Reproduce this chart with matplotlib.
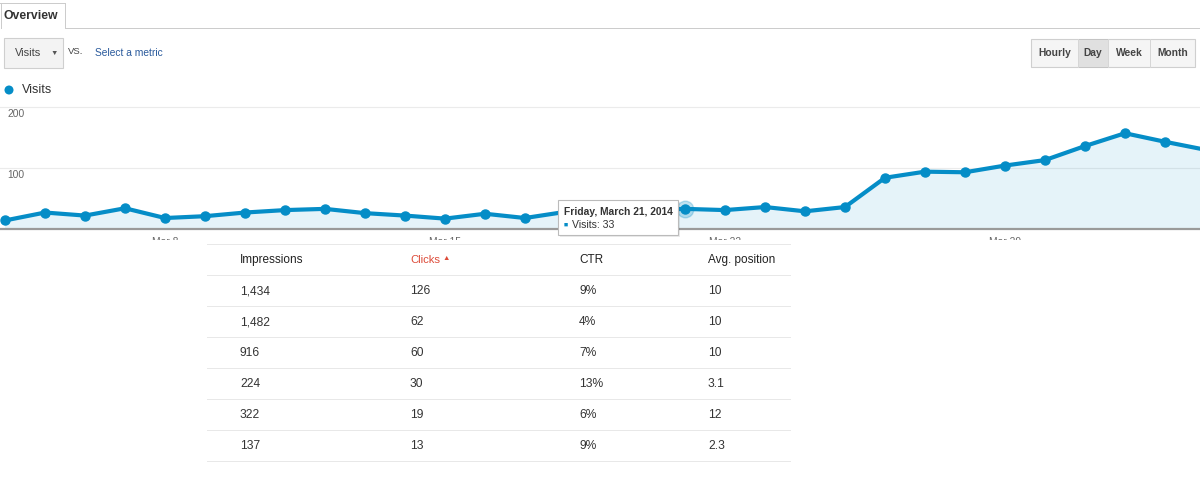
import matplotlib
matplotlib.use('Agg')
import matplotlib.pyplot as plt
from matplotlib.patches import Rectangle, Ellipse
from matplotlib.lines import Line2D
import pandas as pd

plt.rcParams['font.family'] = ['Liberation Sans', 'DejaVu Sans']

# ---------------- data ----------------
dates = pd.date_range('2014-03-04', '2014-04-03', freq='D')
visits = [14, 27, 22, 34, 18, 21, 27, 31, 33, 26,
          22, 17, 25, 18, 28, 30, 31, 33, 31, 36,
          29, 36, 84, 94, 93, 104, 113, 136, 157, 143, 130]
tick_dates = pd.to_datetime(['2014-03-08', '2014-03-15', '2014-03-22', '2014-03-29'])
tick_labels = ['Mar 8', 'Mar 15', 'Mar 22', 'Mar 29']
y_ticks = [100, 200]
hover_index = 17

table_headers = ['Impressions', 'Clicks', 'CTR', 'Avg. position']
impressions = [1434, 1482, 916, 224, 322, 137]
clicks = [126, 62, 60, 30, 19, 13]
ctr = ['9%', '4%', '7%', '13%', '6%', '9%']
avg_position = ['10', '10', '10', '3.1', '12', '2.3']

period_buttons = ['Hourly', 'Day', 'Week', 'Month']
active_button = 'Day'

# ---------------- helpers ----------------
W, H = 1200, 494
BLUE = '#058dc7'

def fx(x):
    return x / W

def fy(y):
    return 1 - y / H

def pt(px):
    return px * 0.72

fig = plt.figure(figsize=(W / 100, H / 100), dpi=100)
fig.patch.set_facecolor('white')

def hline(x0, x1, y, color='#e6e6e6', lw=1, z=3):
    fig.add_artist(Line2D([fx(x0), fx(x1)], [fy(y), fy(y)], transform=fig.transFigure,
                          color=color, lw=lw * 0.72, zorder=z))

def vline(x, y0, y1, color='#cccccc', lw=1, z=3):
    fig.add_artist(Line2D([fx(x), fx(x)], [fy(y0), fy(y1)], transform=fig.transFigure,
                          color=color, lw=lw * 0.72, zorder=z))

def box(x0, y0, x1, y1, fc, ec, z=3):
    p = Rectangle((fx(x0), fy(y1)), fx(x1) - fx(x0), fy(y0) - fy(y1),
                  transform=fig.transFigure, facecolor=fc, edgecolor=ec,
                  lw=0.8, zorder=z)
    fig.add_artist(p)

def text(x, y, s, size, color='#333333', weight='normal', ha='left', z=6, **kw):
    fig.text(fx(x), fy(y), s, fontsize=pt(size), color=color, fontweight=weight,
             ha=ha, va='center', zorder=z, **kw)

# ---------------- header: tab ----------------
hline(65, 1200, 28, color='#cccccc')
vline(0.5, 28, 3)
hline(0, 65, 3, color='#cccccc')
vline(65, 3, 28)
text(4, 16, 'Overview', 12.2, color='#333333', weight='bold')

# ---------------- metric selector ----------------
box(4, 38, 63, 68, '#f3f3f3', '#cfcfcf')
text(15, 53, 'Visits', 11, color='#444444')
text(50, 53, '\u25BC', 7.5, color='#555555')
text(68, 51, 'VS.', 9.5, color='#444444')
text(95, 53, 'Select a metric', 10.3, color='#2a5a9c')

# ---------------- period buttons ----------------
bx = [1031, 1078, 1108, 1150, 1195]
box(bx[0], 39, bx[-1], 67, '#f5f5f5', '#cfcfcf')
for i, lab in enumerate(period_buttons):
    if lab == active_button:
        fig.add_artist(Rectangle((fx(bx[i]), fy(67)), fx(bx[i + 1]) - fx(bx[i]), fy(39) - fy(67),
                                 transform=fig.transFigure, facecolor='#e0e0e0',
                                 edgecolor='#c4c4c4', lw=0.7, zorder=3.5))
    if 0 < i:
        vline(bx[i], 39, 67, color='#d6d6d6', z=3.6)
    text((bx[i] + bx[i + 1]) / 2, 53, lab, 10.3, color='#444444', weight='bold', ha='center')

# ---------------- legend ----------------
fig.add_artist(Ellipse((fx(9), fy(90)), 9 / W, 9 / H, transform=fig.transFigure,
                       facecolor=BLUE, edgecolor='none', zorder=4))
text(22, 90, 'Visits', 12.5, color='#333333')

# ---------------- chart ----------------
base_px, px_per_unit, ymax = 229, 0.61, 203
top_px = base_px - ymax * px_per_unit
ax = fig.add_axes([0, fy(base_px), 1, (base_px - top_px) / H])
ax.set_facecolor('none')
x0 = dates[0] - pd.Timedelta(hours=3)
x1 = dates[0] + pd.Timedelta(days=1195 / 40)
ax.set_xlim(x0, x1)
ax.set_ylim(0, ymax)

ax.fill_between(dates, visits, 0, color=BLUE, alpha=0.1, lw=0, zorder=1)
ax.plot(dates, visits, color=BLUE, lw=3.0, marker='o', ms=6.5, zorder=3,
        solid_capstyle='round')
ax.plot([dates[hover_index]], [visits[hover_index]], 'o', ms=12, color=BLUE,
        alpha=0.25, zorder=2)

ax.set_yticks(y_ticks)
ax.grid(axis='y', color='#ebebeb', lw=0.8)
ax.set_axisbelow(True)
ax.tick_params(axis='y', length=0, labelleft=False)
for v in y_ticks:
    ax.annotate(str(v), xy=(0, v), xycoords=('axes fraction', 'data'),
                xytext=(7, -7), textcoords='offset pixels', fontsize=pt(10.3),
                color='#666666', ha='left', va='center')

ax.set_xticks(tick_dates)
ax.set_xticklabels(tick_labels)
ax.tick_params(axis='x', length=0, pad=pt(8), labelsize=pt(10.3), labelcolor='#666666')
for s in ['top', 'left', 'right']:
    ax.spines[s].set_visible(False)
ax.spines['bottom'].set_color('#9a9a9a')
ax.spines['bottom'].set_linewidth(1.6)
ax.spines['bottom'].set_zorder(4)

# ---------------- tooltip ----------------
tx0, ty0, tx1, ty1 = 558, 200, 678, 235
fig.add_artist(Rectangle((fx(tx0 + 2), fy(ty1 + 2)), fx(tx1) - fx(tx0), fy(ty0) - fy(ty1),
                         transform=fig.transFigure, facecolor='#000000', alpha=0.08,
                         edgecolor='none', zorder=7))
fig.add_artist(Rectangle((fx(tx0), fy(ty1)), fx(tx1) - fx(tx0), fy(ty0) - fy(ty1),
                         transform=fig.transFigure, facecolor='white',
                         edgecolor='#bbbbbb', lw=0.8, zorder=7.5))
hd = dates[hover_index]
text(564, 212, f"{hd.strftime('%A')}, {hd.strftime('%B')} {hd.day}, {hd.year}", 10.2,
     color='#333333', weight='bold', z=8)
text(564, 225, '\u25A0', 7, color=BLUE, z=8)
text(572, 225, f'Visits: {visits[hover_index]}', 10.5, color='#333333', z=8)

# ---------------- cover the lower area (table panel) ----------------
fig.add_artist(Rectangle((0, 0), 1, fy(240), transform=fig.transFigure,
                         facecolor='white', edgecolor='none', zorder=5))

# ---------------- table ----------------
tl, tr = 207, 790
col_x = [240, 410, 579, 708]
row_lines = [244, 275, 306, 337, 368, 399, 430, 461]
for yl in row_lines:
    hline(tl, tr, yl, color='#e8e8e8', z=5.5)

header_y = 260
for i, h in enumerate(table_headers):
    if h == 'Clicks':
        text(col_x[i], header_y, h, 11.3, color='#dd4b39')
        text(col_x[i] + 32, header_y - 1, '\u25B2', 7.5, color='#dd4b39')
    else:
        text(col_x[i], header_y, h, 11.8, color='#222222')

row_y = [291, 322, 353, 384, 415, 446]
for r in range(len(impressions)):
    vals = [f'{impressions[r]:,}', str(clicks[r]), ctr[r], avg_position[r]]
    for i, v in enumerate(vals):
        text(col_x[i], row_y[r], v, 12, color='#333333')

fig.savefig('out.png', dpi=100, facecolor='white')
